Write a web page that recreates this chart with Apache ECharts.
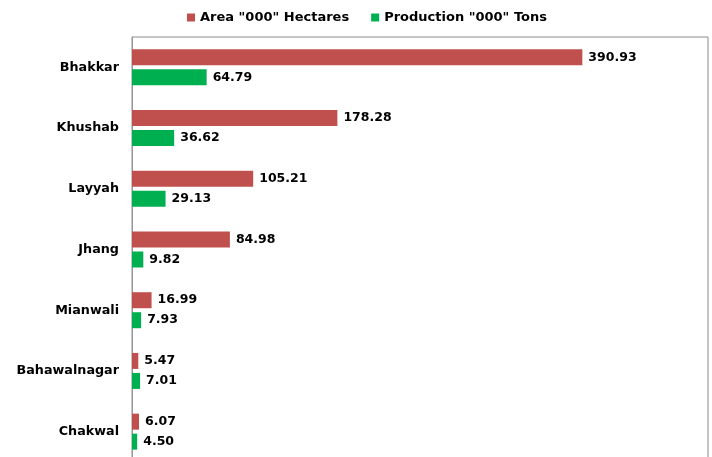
<!DOCTYPE html>
<html>
<head>
<meta charset="utf-8">
<script src="https://cdn.jsdelivr.net/npm/echarts@6/dist/echarts.min.js"></script>
<style>html,body{margin:0;padding:0;background:#fff;overflow:hidden}#c{width:712px;height:463px}</style>
</head>
<body>
<div id="c"></div>
<script>
const districts = ["Bhakkar", "Khushab", "Layyah", "Jhang", "Mianwali", "Bahawalnagar", "Chakwal"];
const areaValues = [390.93, 178.28, 105.21, 84.98, 16.99, 5.47, 6.07];
const productionValues = [64.79, 36.62, 29.13, 9.82, 7.93, 7.01, 4.50];
const seriesNames = ['Area "000" Hectares', 'Production "000" Tons'];

const FONT = "DejaVu Sans";
const chart = echarts.init(document.getElementById('c'), null, {renderer: 'canvas'});
const labelCfg = {
  show: true, position: 'right', distance: 6,
  color: '#000', fontFamily: FONT, fontWeight: 'bold', fontSize: 12.5,
  formatter: p => p.value.toFixed(2)
};
chart.setOption({
  animation: false,
  backgroundColor: '#fff',
  legend: {
    left: 182, top: 6, itemWidth: 8, itemHeight: 8, itemGap: 22,
    icon: 'rect',
    textStyle: {fontFamily: FONT, fontWeight: 'bold', fontSize: 13, color: '#000'},
    data: seriesNames
  },
  grid: {
    left: 132, top: 37, right: 4, height: 425,
    show: true, borderColor: '#8c8c8c', borderWidth: 1, containLabel: false
  },
  xAxis: {
    type: 'value', min: 0, max: 500, show: false,
    splitLine: {show: false}
  },
  yAxis: {
    type: 'category', data: districts, inverse: true,
    axisLine: {show: true, lineStyle: {color: '#999', width: 1}},
    axisTick: {show: false},
    axisLabel: {margin: 13, fontFamily: FONT, fontWeight: 'bold', fontSize: 12.75, color: '#000'}
  },
  series: [
    {name: seriesNames[0], type: 'bar', data: areaValues, barWidth: 16, barGap: '25%',
     itemStyle: {color: '#C0504D'}, label: labelCfg},
    {name: seriesNames[1], type: 'bar', data: productionValues, barWidth: 16, barGap: '25%',
     itemStyle: {color: '#00B050'}, label: labelCfg}
  ]
});
</script>
</body>
</html>
